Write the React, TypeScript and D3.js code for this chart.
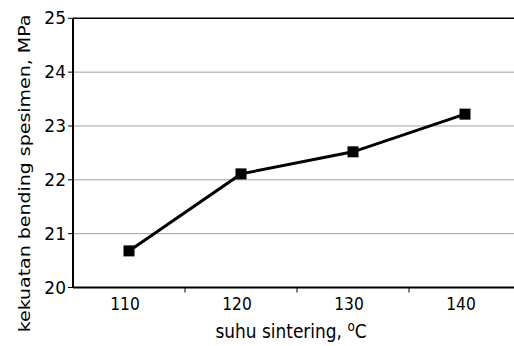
import React from "react";
import * as d3 from "d3";

const categories = ["110", "120", "130", "140"];
const values = [20.68, 22.11, 22.52, 23.22];
const yTicks = [20, 21, 22, 23, 24, 25];

const W = 514, H = 346;
const left = 73, right = 521, top = 18.3, bottom = 287.5;
const font = "DejaVu Sans, Verdana, sans-serif";

export default function App() {
  const x = d3.scaleBand<string>().domain(categories).range([left, right]);
  const y = d3.scaleLinear().domain([20, 25]).range([bottom, top]);
  const line = d3
    .line<number>()
    .x((_, i) => (x(categories[i]) as number) + x.bandwidth() / 2)
    .y((d) => y(d));
  return (
    <svg width={W} height={H} style={{ position: "absolute", left: 0, top: 0, background: "#fff" }}>
      {yTicks.map((t) => (
        <g key={t}>
          {t > 20 && t < 25 && (
            <line x1={left} x2={W} y1={y(t)} y2={y(t)} stroke="#a0a0a0" strokeWidth={1} />
          )}
          <line x1={left - 5} x2={left} y1={y(t)} y2={y(t)} stroke="#000" strokeWidth={1} />
          <text x={left - 7} y={y(t)} dy="0.36em" textAnchor="end" fontFamily={font} fontSize={17} fill="#000">
            {t}
          </text>
        </g>
      ))}
      <line x1={left} x2={W} y1={y(25)} y2={y(25)} stroke="#000" strokeWidth={1.5} />
      <line x1={left} x2={W} y1={bottom} y2={bottom} stroke="#000" strokeWidth={2} />
      <line x1={left} x2={left} y1={top} y2={bottom} stroke="#000" strokeWidth={2} />
      {categories.map((c, i) => (
        <g key={c}>
          {i > 0 && (
            <line x1={x(c) as number} x2={x(c) as number} y1={bottom} y2={bottom + 5} stroke="#000" strokeWidth={1} />
          )}
          <text
            transform={`translate(${(x(c) as number) + x.bandwidth() / 2 - 4},309.5) scale(1,1.15)`}
            textAnchor="middle"
            fontFamily={font}
            fontSize={15.5}
            fill="#000"
          >
            {c}
          </text>
        </g>
      ))}
      <path d={line(values) || ""} fill="none" stroke="#000" strokeWidth={3} />
      {values.map((v, i) => (
        <rect key={i} x={(x(categories[i]) as number) + x.bandwidth() / 2 - 5.5} y={y(v) - 5.5} width={11} height={11} fill="#000" />
      ))}
      <text
        transform={`translate(30,173.5) rotate(-90) scale(1.15,1)`}
        textAnchor="middle"
        fontFamily={font}
        fontSize={16.5}
        fill="#000"
      >
        kekuatan bending spesimen, MPa
      </text>
      <text
        transform={`translate(291,338) scale(1,1.15)`}
        textAnchor="middle"
        fontFamily={font}
        fontSize={17}
        fill="#000"
      >
        suhu sintering, <tspan dy={-6} fontSize={12}>o</tspan>
        <tspan dy={6}>C</tspan>
      </text>
    </svg>
  );
}
